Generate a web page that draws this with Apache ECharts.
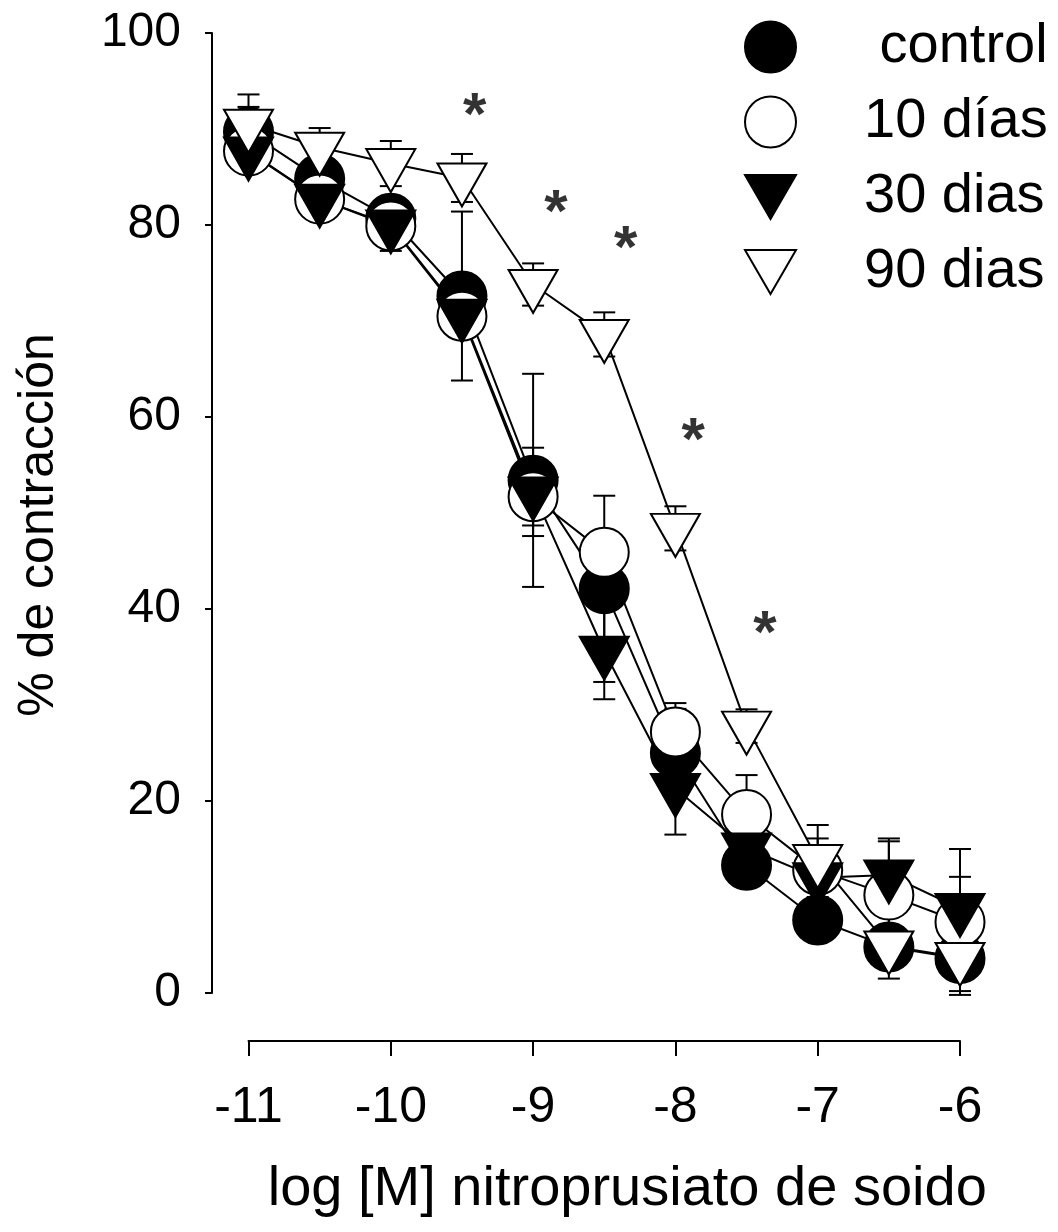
<!DOCTYPE html>
<html>
<head>
<meta charset="utf-8">
<script src="https://cdn.jsdelivr.net/npm/echarts@6/dist/echarts.min.js"></script>
<style>
  html, body { margin: 0; padding: 0; background: #fff; }
  #chart { width: 1058px; height: 1232px; }
</style>
</head>
<body>
<div id="chart"></div>
<script>
// ---- data ----
const xValues = [-11, -10.5, -10, -9.5, -9, -8.5, -8, -7.5, -7, -6.5, -6];
const seriesNames = ['control', '10 días', '30 dias', '90 dias'];
const controlMean = [89.7, 84.8, 80.7, 72.6, 53.4, 42.1, 25.0, 13.3, 7.6, 4.8, 3.6];
const controlErr  = [2.6, 1.5, 1.0, 8.8, 11.1, 9.7, 4.6, 1.5, 1.5, 1.5, 1.5];
const d10Mean = [87.7, 82.7, 79.9, 70.5, 51.7, 45.9, 27.2, 18.6, 12.8, 10.2, 7.4];
const d10Err  = [1.5, 1.5, 1.5, 1.5, 3.0, 2.0, 3.0, 4.1, 4.7, 5.6, 7.6];
const d30Mean = [87.6, 82.7, 80.0, 70.7, 52.2, 35.6, 21.3, 15.1, 12.0, 12.3, 8.8];
const d30Err  = [1.5, 1.5, 2.7, 1.5, 4.6, 5.0, 4.8, 3.7, 2.0, 3.8, 3.3];
const d90Mean = [90.5, 88.1, 86.4, 84.9, 73.8, 68.6, 48.4, 27.8, 13.9, 4.9, 3.7];
const d90Err  = [3.1, 2.0, 2.35, 2.5, 2.2, 2.3, 2.3, 1.75, 2.2, 3.4, 3.5];
// significance asterisks (x, y)
const starX = [-9.41, -8.84, -8.35, -7.875, -7.37];
const starY = [92.3, 82.2, 78.5, 58.5, 38.4];
const xTicks = [-11, -10, -9, -8, -7, -6];
const yTicks = [0, 20, 40, 60, 80, 100];

const FONT = 'Liberation Sans, Arial, Helvetica, sans-serif';
const TRI = 'path://M0,0 L51,0 L25.5,44 Z';

const means = [controlMean, d10Mean, d30Mean, d90Mean];
const errs = [controlErr, d10Err, d30Err, d90Err];
const styles = [
  { symbol: 'circle', size: 49, fill: '#000', offset: [0, 0] },
  { symbol: 'circle', size: 49, fill: '#fff', offset: [0, 0] },
  { symbol: TRI, size: [49, 43], fill: '#000', offset: [0, 7] },
  { symbol: TRI, size: [49, 43], fill: '#fff', offset: [0, 7] }
];

const series = [];
// error bars
means.forEach((m, i) => {
  series.push({
    type: 'custom',
    name: seriesNames[i] + ' err',
    z: 1,
    silent: true,
    data: xValues.map((x, j) => [x, m[j], errs[i][j]]),
    encode: { x: 0, y: 1 },
    renderItem: function (params, api) {
      const x = api.value(0), y = api.value(1), e = api.value(2);
      const top = api.coord([x, y + e]);
      const bot = api.coord([x, y - e]);
      const hw = 11;
      const st = { stroke: '#000', lineWidth: 2, fill: null };
      return {
        type: 'group',
        children: [
          { type: 'line', shape: { x1: top[0], y1: top[1], x2: bot[0], y2: bot[1] }, style: st },
          { type: 'line', shape: { x1: top[0] - hw, y1: top[1], x2: top[0] + hw, y2: top[1] }, style: st },
          { type: 'line', shape: { x1: bot[0] - hw, y1: bot[1], x2: bot[0] + hw, y2: bot[1] }, style: st }
        ]
      };
    }
  });
});
// connecting lines
means.forEach((m, i) => {
  series.push({
    type: 'line',
    name: seriesNames[i] + ' line',
    z: 2,
    silent: true,
    showSymbol: false,
    symbol: 'none',
    lineStyle: { color: '#000', width: 2 },
    data: xValues.map((x, j) => [x, m[j]])
  });
});
// markers
means.forEach((m, i) => {
  const s = styles[i];
  series.push({
    type: 'scatter',
    name: seriesNames[i],
    z: 3 + i,
    symbol: s.symbol,
    symbolSize: s.size,
    symbolOffset: s.offset,
    itemStyle: { color: s.fill, borderColor: '#000', borderWidth: 2, opacity: 1 },
    data: xValues.map((x, j) => [x, m[j]])
  });
});
// asterisks
series.push({
  type: 'scatter',
  name: 'sig',
  z: 8,
  silent: true,
  symbol: 'circle',
  symbolSize: 1,
  itemStyle: { color: 'rgba(0,0,0,0)' },
  label: {
    show: true, position: 'inside', formatter: '*',
    fontFamily: FONT, fontSize: 60, fontWeight: 'bold', color: '#000', offset: [0, 11]
  },
  data: starX.map((x, k) => [x, starY[k]])
});

const chart = echarts.init(document.getElementById('chart'), null, { renderer: 'canvas' });
chart.setOption({
  backgroundColor: '#fff',
  animation: false,
  textStyle: { fontFamily: FONT, color: '#000' },
  grid: { left: 248.5, right: 98, top: 33, bottom: 239 },
  legend: {
    data: seriesNames,
    orient: 'vertical',
    left: 739,
    top: 14,
    itemWidth: 51,
    itemHeight: 51,
    itemGap: 19,
    selectedMode: false,
    formatter: function (name) { return '{g|}' + (name === 'control' ? ' control' : name); },
    textStyle: {
      fontFamily: FONT, fontSize: 56, color: '#000', lineHeight: 56,
      rich: { g: { width: 63 } }
    }
  },
  xAxis: {
    type: 'value',
    min: -11, max: -6, interval: 1,
    offset: 48,
    name: 'log [M] nitroprusiato de soido',
    nameLocation: 'middle',
    nameGap: 121,
    nameTextStyle: { fontFamily: FONT, fontSize: 56, color: '#000', padding: [0, 0, 0, 46] },
    axisLine: { show: true, onZero: false, lineStyle: { color: '#000', width: 2 } },
    axisTick: { show: true, length: 15, lineStyle: { color: '#000', width: 2 } },
    axisLabel: {
      fontFamily: FONT, fontSize: 50, color: '#000', margin: 42,
      formatter: function (v) { return xTicks.indexOf(v) >= 0 ? String(v) : ''; }
    },
    splitLine: { show: false }
  },
  yAxis: {
    type: 'value',
    min: 0, max: 100, interval: 20,
    offset: 36.5,
    name: '% de contracción',
    nameLocation: 'middle',
    nameGap: 148,
    nameTextStyle: { fontFamily: FONT, fontSize: 50, color: '#000', padding: [0, 24, 0, 0] },
    axisLine: { show: true, onZero: false, lineStyle: { color: '#000', width: 2 } },
    axisTick: { show: true, length: 7, lineStyle: { color: '#000', width: 2 } },
    axisLabel: {
      fontFamily: FONT, fontSize: 48, color: '#000', margin: 31,
      formatter: function (v) { return yTicks.indexOf(v) >= 0 ? String(v) : ''; }
    },
    splitLine: { show: false }
  },
  series: series
});
</script>
</body>
</html>
